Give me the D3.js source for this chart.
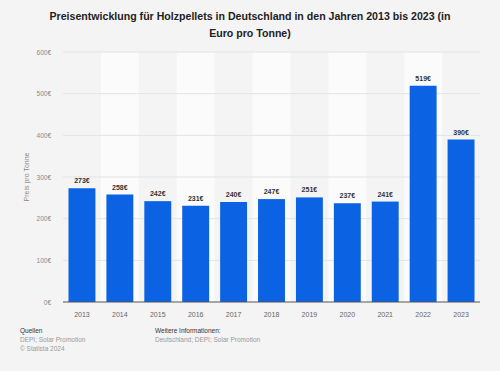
<!DOCTYPE html>
<html>
<head>
<meta charset="utf-8">
<script src="https://cdn.jsdelivr.net/npm/d3@7"></script>
<style>
  body { margin: 0; background: #f4f4f4; }
  svg { display: block; font-family: "Liberation Sans", Arial, sans-serif; }
</style>
</head>
<body>
<svg id="chart" width="500" height="371"></svg>
<script>
// Daten
const jahre = ["2013", "2014", "2015", "2016", "2017", "2018", "2019", "2020", "2021", "2022", "2023"]
const preise = [273, 258, 242, 231, 240, 247, 251, 237, 241, 519, 390]
const yTicks = [0, 100, 200, 300, 400, 500, 600]

const size = {WIDTH: 500, HEIGHT: 371}
const margin = {left: 63, right: 20, top: 52, bottom: 69}

const svg = d3.select("#chart")

svg.append("rect")
    .attr("width", size.WIDTH)
    .attr("height", size.HEIGHT)
    .attr("fill", "#f4f4f4")

const x = d3.scaleBand()
    .domain(jahre)
    .range([margin.left, size.WIDTH - margin.right])
    .paddingInner(0.29)
    .paddingOuter(0.145)

const y = d3.scaleLinear()
    .domain([0, 600])
    .range([size.HEIGHT - margin.bottom, margin.top])

// helle Streifen hinter jeder zweiten Kategorie
const step = x.step()
svg.selectAll(".band")
    .data(jahre.filter((_, i) => i % 2 == 1))
    .join("rect")
    .attr("x", (d) => x(d) + x.bandwidth() / 2 - step / 2)
    .attr("y", margin.top)
    .attr("width", step)
    .attr("height", y(0) - margin.top)
    .attr("fill", "#fbfbfb")

// Gitterlinien
svg.selectAll(".grid")
    .data(yTicks.filter((d) => d > 0))
    .join("line")
    .attr("x1", margin.left)
    .attr("x2", size.WIDTH - margin.right)
    .attr("y1", (d) => y(d))
    .attr("y2", (d) => y(d))
    .attr("stroke", "#e3e3e3")
    .attr("stroke-width", 1)

// y-Achse
const yAxis = svg.append("g")
    .attr("transform", `translate(${margin.left - 12} 0)`)
    .call(d3.axisLeft(y).tickValues(yTicks).tickSize(0).tickFormat((d) => d + "€"))
yAxis.select(".domain").remove()
yAxis.selectAll("text")
    .attr("font-size", "6.5px")
    .attr("fill", "#888")
    .attr("x", 0)

svg.append("text")
    .text("Preis pro Tonne")
    .attr("transform", `translate(29 ${y(300)}) rotate(-90)`)
    .attr("text-anchor", "middle")
    .attr("font-size", "7px")
    .attr("fill", "#888")

// Balken
svg.selectAll(".bar")
    .data(preise)
    .join("rect")
    .attr("x", (_, i) => x(jahre[i]))
    .attr("y", (d) => y(d))
    .attr("width", x.bandwidth())
    .attr("height", (d) => y(0) - y(d))
    .attr("fill", "#0b62e3")

svg.selectAll(".label")
    .data(preise)
    .join("text")
    .text((d) => d + "€")
    .attr("x", (_, i) => x(jahre[i]) + x.bandwidth() / 2)
    .attr("y", (d) => y(d) - 5)
    .attr("text-anchor", "middle")
    .attr("font-size", "7px")
    .attr("font-weight", "bold")
    .attr("fill", "#333")

// x-Achse
svg.append("line")
    .attr("x1", margin.left)
    .attr("x2", size.WIDTH - margin.right)
    .attr("y1", y(0))
    .attr("y2", y(0))
    .attr("stroke", "#555")
    .attr("stroke-width", 1)

svg.selectAll(".xlabel")
    .data(jahre)
    .join("text")
    .text((d) => d)
    .attr("x", (d) => x(d) + x.bandwidth() / 2)
    .attr("y", y(0) + 15)
    .attr("text-anchor", "middle")
    .attr("font-size", "7px")
    .attr("fill", "#666")

// Titel
const titel = ["Preisentwicklung für Holzpellets in Deutschland in den Jahren 2013 bis 2023 (in", "Euro pro Tonne)"]
svg.selectAll(".titel")
    .data(titel)
    .join("text")
    .text((d) => d)
    .attr("x", size.WIDTH / 2)
    .attr("y", (_, i) => 20 + i * 16.5)
    .attr("text-anchor", "middle")
    .attr("font-size", "10.6px")
    .attr("font-weight", "bold")
    .attr("fill", "#222")

// Fußzeile
const fuss = [
    {x: 20, y: 333, text: "Quellen", fill: "#333"},
    {x: 20, y: 342, text: "DEPI; Solar Promotion", fill: "#999"},
    {x: 20, y: 351, text: "© Statista 2024", fill: "#999"},
    {x: 155, y: 333, text: "Weitere Informationen:", fill: "#333"},
    {x: 155, y: 342, text: "Deutschland; DEPI; Solar Promotion", fill: "#999"}
]
svg.selectAll(".fuss")
    .data(fuss)
    .join("text")
    .text((d) => d.text)
    .attr("x", (d) => d.x)
    .attr("y", (d) => d.y)
    .attr("font-size", "6.5px")
    .attr("fill", (d) => d.fill)
</script>
</body>
</html>
